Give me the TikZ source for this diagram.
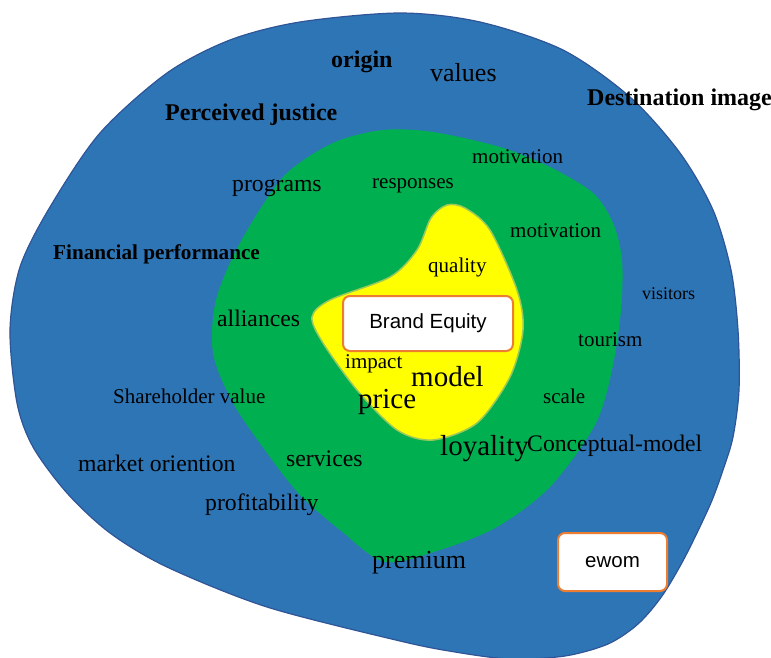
\documentclass[tikz,border=0pt]{standalone}
\usepackage{fontspec}
\setmainfont{Liberation Serif}
\newfontfamily\boxfont{Liberation Sans}
\usetikzlibrary{positioning}

\definecolor{outerblue}{HTML}{2E75B6}
\definecolor{outerline}{HTML}{2F5597}
\definecolor{midgreen}{HTML}{00B050}
\definecolor{coreyellow}{HTML}{FFFF00}
\definecolor{coreline}{HTML}{9BC85A}
\definecolor{boxline}{HTML}{ED7D31}

\begin{document}
\begin{tikzpicture}[x=1pt,y=-1pt,
  term/.style={anchor=base west,inner sep=0pt,font=\fontsize{21}{25}\selectfont},
  termsm/.style={term,font=\fontsize{18}{22}\selectfont},
  termmd/.style={term,font=\fontsize{23.7}{28}\selectfont},
  termlg/.style={term,font=\fontsize{26}{31}\selectfont},
  termxl/.style={term,font=\fontsize{29}{34}\selectfont},
  termbf/.style={term,font=\fontsize{24}{28}\selectfont\bfseries},
  keybox/.style={draw=boxline,fill=white,line width=2pt,rounded corners=7pt,
    font=\boxfont\fontsize{20.5}{24}\selectfont}]

\useasboundingbox (0,0) rectangle (771,658);

% outer ring
\filldraw[fill=outerblue,draw=outerline,line width=1.2pt] plot[smooth cycle] coordinates {
  (400,13) (480,22) (563,50) (630,97) (680,153) (713,210) (731,270) (738,330)
  (739,390) (733,437) (723,470) (710,505) (685,557) (662,596) (638,624) (608,644)
  (565,656) (510,659) (455,652) (400,641) (267,607) (167,567) (110,533) (67,493)
  (33,447) (17,403) (10,330) (20,267) (50,207) (100,133) (167,73) (230,40) (300,22)};

% middle ring
\fill[midgreen] plot[smooth cycle] coordinates {
  (383,130) (433,132) (500,147) (550,167) (593,193) (613,223) (622,260) (621,310)
  (612,370) (595,425) (550,487) (497,527) (440,550) (385,562) (340,530) (300,495)
  (267,453) (233,403) (213,353) (216,300) (240,243) (283,177) (333,143)};

% core
\filldraw[fill=coreyellow,draw=coreline,line width=1.5pt] plot[smooth cycle] coordinates {
  (447,205) (465,208) (490,230) (517,290) (523,330) (510,377) (477,423) (433,440)
  (397,430) (357,390) (323,343) (312,317) (330,300) (390,277) (417,250) (431,218)};

\node[keybox,minimum width=170pt,minimum height=55pt] (brand) at (428,323.5) {Brand Equity};
\node[keybox,minimum width=109pt,minimum height=58pt] (ewom) at (612.5,562) {ewom};

% outer terms
\node[termbf] (origin) at (331,68) {origin};
\node[termlg] (values) at (430,82) {values};
\node[termbf] (percjust) at (165,121) {Perceived justice};
\node[termbf] (destimg) at (587,106) {Destination image};
\node[termbf,font=\fontsize{21.2}{25}\selectfont\bfseries] (finperf) at (53,259) {Financial performance};
\node[termsm] (visitors) at (642,299) {visitors};
\node[term] (sharehold) at (113,403) {Shareholder value};
\node[termmd] (market) at (78,471) {market oriention};
\node[termmd] (profit) at (205,510) {profitability};
\node[termlg] (premium) at (372,568) {premium};
\node[termmd] (concept) at (527,451) {Conceptual-model};

% middle terms
\node[termmd] (programs) at (232,191) {programs};
\node[term] (responses) at (372,189) {responses};
\node[term] (motiv1) at (472,164) {motivation};
\node[term] (motiv2) at (510,237) {motivation};
\node[termmd] (alliances) at (217,326) {alliances};
\node[term] (tourism) at (578,346) {tourism};
\node[term] (scale) at (543,403) {scale};
\node[termmd] (services) at (286,466) {services};
\node[termxl] (loyality) at (440,455) {loyality};

% core terms
\node[term] (quality) at (428,272) {quality};
\node[term] (impact) at (345,368) {impact};
\node[termxl] (model) at (411,386) {model};
\node[termxl] (price) at (358,408) {price};

\end{tikzpicture}
\end{document}
